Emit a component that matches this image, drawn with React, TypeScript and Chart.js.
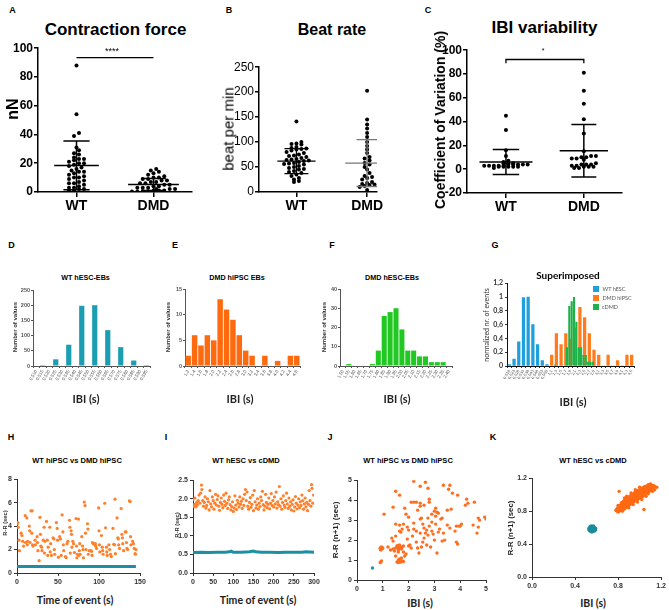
import React, { useEffect, useRef } from "react";
import { Chart, registerables } from "chart.js";
Chart.register(...registerables);
Chart.defaults.color = "#000";

const ARIAL = "'Liberation Sans', Arial, Helvetica, sans-serif";
const LATO = "Lato, 'Liberation Sans', sans-serif";

// ---------------- DATA ----------------
const GROUPS = ["WT", "DMD"];

// A: Contraction force (nN)
const A_WT = [88, 54, 41, 39, 31, 29, 27, 26, 24, 23, 23, 22, 21, 20, 20, 19, 18, 17, 16, 15, 14, 14, 13, 12, 11, 10, 10, 9, 8, 7, 6, 6, 5, 4, 3, 3, 2, 2, 1, 1];
const A_DMD = [16, 15, 14, 13, 12, 11, 10, 10, 9, 9, 8, 8, 7, 7, 6, 6, 5, 5, 4, 4, 3, 3, 3, 2, 2, 2, 1, 1, 0.8, 0.5, 0.5, 0.3, 0.3];
const A_MEAN = [18.5, 5.2];
const A_SD = [17, 4.2];

// B: Beat rate (beat per min)
const B_WT = [141, 100, 97, 96, 95, 90, 88, 87, 86, 85, 83, 80, 78, 75, 73, 72, 70, 68, 66, 65, 64, 63, 62, 60, 58, 57, 56, 55, 52, 50, 48, 46, 45, 42, 40, 38, 35, 32, 28, 25, 22, 20];
const B_DMD = [203, 145, 135, 127, 118, 110, 100, 92, 85, 78, 70, 67, 63, 58, 55, 50, 45, 38, 32, 30, 28, 25, 20, 18, 16, 15, 14, 12, 10, 4];
const B_MEAN = [62, 58];
const B_SD = [25, 47];

// C: IBI variability (Coefficient of Variation %)
const C_WT = [45, 33, 16, 11, 7, 6, 5, 5, 5, 4, 4, 4, 4, 4, 3, 3, 3, 3, 3, 2, 2, 2, 2, 2, 1];
const C_DMD = [81, 66, 55, 42, 30, 15, 11, 11, 10, 10, 9, 9, 8, 5, 4, 4, 4, 3, 3, 2, 2, 2, 1, 1];
const C_MEAN = [6, 15.5];
const C_SD = [10.5, 22];

// D: WT hESC-EBs histogram
const D_LABELS = ["0.510", "0.515", "0.520", "0.525", "0.530", "0.535", "0.540", "0.545", "0.550", "0.555", "0.560", "0.565", "0.570", "0.575", "0.580", "0.585", "0.590", "0.595"];
const D_COUNTS = [0, 3, 0, 22, 0, 70, 0, 198, 0, 200, 0, 118, 0, 62, 0, 18, 0, 3];

// E: DMD hiPSC EBs histogram
const E_LABELS = ["1.2", "1.4", "1.6", "1.8", "2.0", "2.2", "2.4", "2.6", "2.8", "3.0", "3.2", "3.4", "3.6", "3.8", "4.0", "4.2", "4.4", "4.6"];
const E_COUNTS = [2, 6, 4, 6, 5, 13, 11, 9, 6, 3, 2, 0, 2, 0, 1, 0, 2, 2];

// F: DMD hESC-EBs histogram
const F_LABELS = ["1.50", "1.55", "1.60", "1.65", "1.70", "1.75", "1.80", "1.85", "1.90", "1.95", "2.00", "2.05", "2.10", "2.15", "2.20", "2.25", "2.30", "2.35", "2.40"];
const F_COUNTS = [0, 1, 0, 0, 0, 1, 8, 26, 28, 30, 19, 8, 8, 5, 5, 2, 2, 2, 0];

// G: Superimposed (normalized nr. of events)
const G_LABELS = ["0,518", "0,523", "0,528", "0,533", "0,538", "0,543", "0,548", "0,553", "0,558", "1,1", "1,3", "1,5", "1,7", "1,9", "2,1", "2,3", "2,5", "2,7", "2,9", "3,1", "3,3", "3,5", "3,7", "3,9", "4,1", "4,3", "4,5"];
const G_WT = [0.02, 0.1, 0.35, 0.99, 1.0, 0.6, 0.31, 0.08, 0.02, null, null, null, null, null, null, null, null, null, null, null, null, null, null, null, null, null, null];
const G_DMD = [null, null, null, null, null, null, null, null, null, 0.16, 0.47, 0.31, 0.47, 0.39, 0.55, 0.85, 0.7, 0.47, 0.23, 0.16, 0, 0.16, 0, 0.08, 0, 0.16, 0.16];
const G_CDMD_SUBBINS = 54;
const G_CDMD: [number, number][] = [[20, 0.02], [25, 0.27], [26, 0.87], [27, 0.94], [28, 1.0], [29, 0.64], [30, 0.27], [31, 0.27], [32, 0.16], [33, 0.16], [34, 0.06], [35, 0.06], [36, 0.06]];
const G_SERIES = ["WT hESC", "DMD hiPSC", "cDMD"];

// H: WT hiPSC vs DMD hiPSC, R-R (sec) vs time of event (s)
const H_DMD: [number, number][] = [
  [0.5, 4.2], [1, 4.3], [1.5, 3.9], [2.5, 2.8], [3, 1.9], [5, 3.4], [6, 3.2], [7, 2.7], [8, 2.3], [10, 4.9], [10.5, 2.6],
  [12, 4.7], [12.5, 2.4], [13, 2.7], [15, 4.0], [15.5, 3.6], [16, 2.6], [17, 5.3], [18.5, 5.3], [18, 3.4], [19, 2.4], [19.5, 2.3],
  [22, 2.8], [22.5, 2.4], [24.5, 3.1], [25, 2.6], [25.5, 1.9], [27, 1.05], [28, 4.75], [28.5, 3.3], [29, 2.3], [30, 2.2], [30.5, 1.9],
  [32, 2.8], [33, 3.9], [33.5, 1.7], [34, 2.7], [36, 4.4], [37, 2.8], [37.5, 1.5], [38, 2.2], [40, 3.9], [40.5, 1.8], [41, 2.5], [42, 1.5],
  [44, 3.0], [45, 2.9], [45.5, 2.0], [46, 1.6], [48, 4.3], [49, 3.8], [49.5, 2.8], [50.5, 1.35], [52, 3.1], [53, 2.9], [54, 1.5],
  [55, 4.95], [56, 3.5], [56.5, 2.4], [57, 1.9], [59, 1.4], [60, 1.3], [61, 2.5], [62, 2.7], [64, 4.5], [64.5, 3.9], [65, 1.7],
  [66, 3.6], [66.5, 3.3], [67, 2.2], [68, 2.7], [69, 2.5], [70, 1.75], [72, 4.65], [72.5, 2.3], [73, 1.3], [73.5, 1.6],
  [75, 4.6], [75.5, 1.5], [76, 1.9], [76.5, 2.5], [77, 1.6], [79, 3.1], [80, 2.3], [80.5, 2.0], [81, 1.3], [82, 6.05], [83, 5.75], [83.5, 3.4], [84, 2.0],
  [86, 4.2], [86.5, 3.75], [87, 1.6], [88, 1.9], [90, 1.9], [91, 1.85], [91.5, 1.5], [92, 2.6], [93, 2.5], [95, 2.4], [95.5, 2.5], [96, 2.3], [97, 2.1],
  [99.5, 5.55], [100, 3.6], [100.5, 2.4], [101, 1.8], [103, 3.2], [104, 2.2], [104.5, 1.9], [105, 1.6], [107, 5.95], [108, 3.85], [109, 2.2], [109.5, 1.8], [110, 1.5],
  [112, 2.4], [113, 2.0], [114, 1.6], [115, 1.4], [117, 3.8], [118, 2.45], [119, 2.4], [119.5, 6.3], [120, 1.65], [122, 4.7], [123, 3.0], [123.5, 2.9], [124, 2.4], [125, 2.1],
  [127, 5.5], [128, 3.3], [128.5, 3.0], [129, 2.5], [130, 1.9], [132, 3.5], [133, 3.5], [133.5, 2.6], [134, 2.1], [135, 2.0],
  [137, 6.15], [138, 6.1], [138.5, 3.1], [139, 2.4], [141, 2.7], [142, 2.5], [143, 2.1], [144, 1.65], [144.5, 1.6], [145, 2.0]
];
const H_WT: [number, number][] = [[0, 0.55], [10, 0.56], [20, 0.55], [30, 0.56], [40, 0.55], [50, 0.56], [60, 0.55], [70, 0.56], [80, 0.56], [90, 0.55], [100, 0.56], [110, 0.55], [120, 0.56], [130, 0.55], [145, 0.56]];

// I: WT hESC vs cDMD, R-R (sec) vs time of event (s)
const I_CDMD: [number, number][] = [
  [0, 1.98], [2, 1.8], [4, 1.85], [5, 2.02], [7, 1.78], [9, 1.9], [11, 1.83], [13, 1.95], [15, 2.1], [17, 1.88], [19, 2.15], [21, 2.37], [22, 2.25], [24, 1.95],
  [26, 1.8], [28, 1.9], [30, 2.05], [32, 1.75], [34, 1.82], [36, 2.0], [38, 1.92], [40, 1.7], [42, 2.22], [44, 1.86], [46, 1.78], [48, 2.05], [50, 1.95],
  [52, 1.72], [54, 1.88], [56, 2.12], [58, 1.83], [60, 1.98], [62, 2.08], [64, 1.8], [66, 1.69], [68, 1.9], [70, 2.02], [72, 1.85], [74, 1.76], [76, 2.1],
  [78, 1.93], [80, 1.82], [82, 2.15], [84, 1.88], [86, 1.74], [88, 1.97], [90, 2.05], [92, 1.84], [94, 1.7], [96, 1.79], [98, 1.92], [100, 1.66], [102, 1.75],
  [104, 2.08], [106, 1.83], [108, 1.71], [110, 1.96], [112, 1.88], [114, 1.78], [116, 2.05], [118, 1.85], [120, 1.93], [122, 1.74], [124, 2.0], [126, 1.82],
  [128, 2.12], [130, 2.25], [132, 1.95], [134, 2.18], [136, 1.8], [138, 1.72], [140, 1.9], [142, 2.03], [144, 1.77], [146, 1.85], [148, 2.1], [150, 1.68],
  [152, 2.22], [154, 1.92], [156, 1.75], [158, 1.83], [160, 2.0], [162, 1.72], [164, 1.88], [166, 1.79], [168, 2.05], [170, 1.95], [172, 2.2], [174, 1.84],
  [176, 1.7], [178, 1.8], [180, 2.12], [182, 1.9], [184, 1.76], [186, 1.85], [188, 2.02], [190, 1.73], [192, 1.88], [194, 2.14], [196, 1.82], [198, 1.95],
  [200, 1.78], [202, 2.05], [204, 1.86], [206, 2.18], [208, 1.75], [210, 1.92], [212, 1.84], [214, 2.33], [216, 1.8], [218, 2.0], [220, 1.72], [222, 1.9],
  [224, 2.08], [226, 1.83], [228, 1.77], [230, 1.95], [232, 2.15], [234, 1.86], [236, 1.74], [238, 2.02], [240, 1.8], [242, 1.92], [244, 1.7], [246, 1.85],
  [248, 1.97], [250, 1.67], [252, 1.78], [254, 2.06], [256, 1.88], [258, 1.73], [260, 1.83], [262, 2.0], [264, 1.76], [266, 1.92], [268, 1.82], [270, 2.1],
  [272, 1.95], [274, 1.72], [276, 1.86], [278, 2.02], [280, 1.78], [282, 1.9], [284, 1.68], [286, 1.85], [288, 2.22], [290, 1.95], [292, 1.8], [294, 2.38],
  [295, 2.28], [297, 1.88], [299, 2.1]
];
const I_WT: [number, number][] = [[0, 0.55], [20, 0.56], [40, 0.55], [60, 0.56], [80, 0.56], [90, 0.57], [95, 0.59], [100, 0.56], [120, 0.56], [140, 0.57], [150, 0.59], [155, 0.57], [170, 0.56], [190, 0.56], [210, 0.55], [230, 0.56], [250, 0.56], [270, 0.56], [280, 0.57], [300, 0.56]];

// J: WT hiPSC vs DMD hiPSC, R-R (n+1) vs IBI
const J_DMD: [number, number][] = [
  [2.2, 4.95], [2.65, 4.9], [2.45, 4.7], [2.75, 4.6], [1.5, 4.45], [1.65, 4.25], [3.35, 4.75], [3.6, 4.75], [3.55, 4.55], [3.7, 4.35], [3.9, 4.25],
  [4.25, 4.05], [4.3, 3.85], [4.2, 3.75], [4.55, 3.9], [2.8, 4.05], [2.8, 3.9], [2.2, 3.9], [2.3, 3.9], [2.1, 3.9], [1.4, 3.65], [1.85, 3.6],
  [2.45, 3.85], [2.45, 3.7], [2.6, 3.75], [2.35, 3.5], [3.05, 3.6], [3.0, 3.45], [3.15, 3.35], [3.05, 3.2], [3.25, 3.05], [3.5, 3.5], [3.65, 3.55],
  [1.05, 3.3], [1.9, 3.3], [2.0, 3.15], [2.45, 3.05], [2.5, 3.1], [2.75, 3.1], [3.3, 3.1], [2.55, 2.8], [2.9, 2.9], [3.05, 2.8], [1.5, 2.8],
  [1.65, 2.75], [1.8, 2.8], [1.75, 2.55], [1.7, 2.4], [1.95, 2.65], [2.0, 2.5], [2.2, 2.85], [2.2, 2.55], [2.45, 2.35], [2.65, 2.35], [2.7, 2.5],
  [2.75, 2.25], [2.6, 2.6], [2.8, 2.7], [2.9, 2.45], [2.95, 2.3], [3.15, 2.4], [3.0, 2.0], [3.35, 2.35], [3.3, 1.95], [3.5, 2.75], [3.6, 2.6],
  [3.85, 2.7], [3.95, 2.7], [4.05, 2.8], [3.8, 2.45], [3.85, 1.9], [3.9, 1.8], [4.5, 2.75], [4.65, 2.35], [4.7, 2.65], [4.75, 3.0], [4.95, 3.15],
  [5.0, 3.05], [4.7, 3.1], [1.35, 2.1], [1.5, 2.2], [1.4, 1.95], [1.95, 2.05], [2.05, 1.75], [2.3, 1.9], [2.35, 1.6], [2.5, 1.65], [2.7, 1.75],
  [2.85, 1.65], [2.6, 2.1], [3.1, 1.35], [2.1, 1.6], [1.2, 1.65], [0.9, 1.6], [0.92, 1.5], [0.95, 1.65], [0.9, 1.55], [1.0, 1.6], [0.92, 0.9],
  [0.95, 0.95], [0.9, 0.88], [1.3, 1.5], [1.4, 1.55], [1.5, 1.6], [1.55, 1.7], [1.6, 1.5], [1.6, 1.65], [1.65, 1.75], [1.7, 1.6], [1.75, 1.65],
  [1.8, 1.7], [1.6, 1.4], [1.5, 1.2], [1.6, 1.0], [1.55, 0.9], [1.65, 0.92], [1.7, 0.9], [1.75, 0.95], [1.8, 0.93], [1.6, 0.88], [1.9, 1.3],
  [2.0, 1.7], [1.85, 1.2], [2.4, 1.35], [1.45, 1.45], [1.62, 1.58], [1.68, 1.62], [1.58, 1.72], [1.72, 1.55], [0.93, 1.62], [0.97, 1.55],
  [1.65, 1.05], [1.72, 1.1], [1.8, 1.4], [2.15, 2.2], [2.55, 1.9], [3.2, 2.55], [3.4, 2.0], [4.0, 2.7], [1.65, 2.45], [2.3, 2.45], [2.9, 3.3], [3.1, 3.4]
];
const J_WT: [number, number][] = [[0.6, 0.6]];

// K: WT hESC vs cDMD, R-R (n+1) vs IBI  (rows: IBI, list of next R-R)
const K_CDMD: [number, number[]][] = [
  [0.78, [0.81]], [0.79, [0.8, 0.83]], [0.8, [0.81, 0.85, 0.79, 0.87]], [0.81, [0.82, 0.86, 0.8, 0.84, 1.04]], [0.82, [0.83, 0.87, 0.81, 0.85]],
  [0.83, [0.84, 0.88, 0.82, 0.9, 0.86]], [0.84, [0.85, 0.89, 0.83, 0.87, 0.91, 0.8]], [0.85, [0.86, 0.9, 0.84, 0.88, 0.92, 0.82]],
  [0.86, [0.87, 0.91, 0.85, 0.89, 0.93, 0.83, 0.96]], [0.87, [0.88, 0.92, 0.86, 0.9, 0.94, 0.84]], [0.88, [0.89, 0.93, 0.87, 0.91, 0.95, 0.85, 0.98]],
  [0.89, [0.9, 0.94, 0.88, 0.92, 0.96, 0.86]], [0.9, [0.91, 0.95, 0.89, 0.93, 0.97, 0.87, 0.84]], [0.91, [0.92, 0.96, 0.9, 0.94, 0.98, 0.88]],
  [0.92, [0.93, 0.97, 0.91, 0.95, 0.99, 0.89, 1.02]], [0.93, [0.94, 0.98, 0.92, 0.96, 1.0, 0.9]], [0.94, [0.95, 0.99, 0.93, 0.97, 1.01, 0.91, 0.88]],
  [0.95, [0.96, 1.0, 0.94, 0.98, 1.02, 0.92]], [0.96, [0.96, 1.0, 0.94, 0.98, 1.03, 0.93, 1.06]], [0.97, [0.97, 1.01, 0.95, 0.99, 1.04, 0.93]],
  [0.98, [0.98, 1.02, 0.96, 1.0, 1.05, 0.94, 0.91]], [0.99, [0.99, 1.03, 0.97, 1.01, 1.05, 0.95]], [1.0, [1.0, 1.04, 0.98, 1.02, 1.06, 0.96, 1.09]],
  [1.01, [1.0, 1.04, 0.98, 1.02, 1.07, 0.96]], [1.02, [1.01, 1.05, 0.99, 1.03, 1.08, 0.97, 0.94]], [1.03, [1.02, 1.06, 1.0, 1.04, 1.08, 0.98]],
  [1.04, [1.03, 1.07, 1.01, 1.05, 1.09, 0.99, 0.82]], [1.05, [1.03, 1.07, 1.01, 1.05, 1.1, 1.0]], [1.06, [1.04, 1.08, 1.02, 1.06, 1.1, 0.98]],
  [1.07, [1.05, 1.09, 1.03, 1.07, 1.11]], [1.08, [1.06, 1.1, 1.04, 1.08, 1.12, 1.01]], [1.09, [1.06, 1.1, 1.04, 1.08]], [1.1, [1.07, 1.11, 1.05, 1.09, 1.13]],
  [1.11, [1.08, 1.12, 1.06]], [1.12, [1.08, 1.1, 1.04]], [1.13, [1.09, 1.11]], [1.14, [1.1, 1.06]], [1.16, [1.09]]
];
const K_WT: [number, number[]][] = [
  [0.53, [0.57, 0.59]], [0.54, [0.56, 0.58, 0.6, 0.61]], [0.55, [0.55, 0.57, 0.59, 0.61, 0.62]], [0.56, [0.55, 0.57, 0.59, 0.61]],
  [0.57, [0.56, 0.58, 0.6, 0.62]], [0.58, [0.56, 0.58, 0.6]], [0.59, [0.57, 0.59]]
];

// ---------------- HELPERS ----------------
function swarm(values: number[], center: number, bin: number, dx: number, maxRow: number) {
  const sorted = [...values].sort((a, b) => a - b);
  const rowMap = new Map<number, number[]>();
  sorted.forEach((v) => {
    const k = Math.floor(v / bin);
    if (!rowMap.has(k)) rowMap.set(k, []);
    rowMap.get(k)!.push(v);
  });
  const pts: { x: number; y: number }[] = [];
  rowMap.forEach((arr) => {
    for (let s = 0, r = 0; s < arr.length; s += maxRow, r++) {
      const chunk = arr.slice(s, s + maxRow);
      const shift = r % 2 ? dx / 2 : 0;
      chunk.forEach((v, j) => pts.push({ x: center + (j - (chunk.length - 1) / 2) * dx + shift, y: v }));
    }
  });
  return pts;
}

function seg(pts: { x: number; y: number }[], color: string, w: number) {
  return { type: "scatter", data: pts, showLine: true, borderColor: color, borderWidth: w, pointRadius: 0, fill: false };
}

function errorBars(means: number[], sds: number[], meanHW: number[], whiskHW: number[], colors: string[], w: number) {
  const ds: any[] = [];
  means.forEach((m, i) => {
    const c = i + 1;
    const col = colors[i];
    const hi = m + sds[i];
    const lo = m - sds[i];
    ds.push(seg([{ x: c - meanHW[i], y: m }, { x: c + meanHW[i], y: m }], col, w));
    ds.push(seg([{ x: c, y: lo }, { x: c, y: hi }], col, w));
    ds.push(seg([{ x: c - whiskHW[i], y: hi }, { x: c + whiskHW[i], y: hi }], col, w));
    ds.push(seg([{ x: c - whiskHW[i], y: lo }, { x: c + whiskHW[i], y: lo }], col, w));
  });
  return ds;
}

function pairs(arr: [number, number][]) {
  return arr.map(([x, y]) => ({ x, y }));
}
function rows(arr: [number, number[]][]) {
  return arr.flatMap(([x, ys]) => ys.map((y) => ({ x, y })));
}

function dotConfig(p: any) {
  const axisCol = "#000";
  return {
    type: "scatter",
    data: {
      datasets: [
        ...(p.extra || []),
        ...errorBars(p.mean, p.sd, p.meanHW, p.whiskHW, p.errColors, p.errW),
        { data: swarm(p.wt, 1, p.bin, p.dx, p.maxRow), pointRadius: 2, pointBackgroundColor: "#000", pointBorderWidth: 0 },
        { data: swarm(p.dmd, 2, p.bin, p.dxD ?? p.dx, p.maxRowD ?? p.maxRow), pointRadius: 2, pointBackgroundColor: "#000", pointBorderWidth: 0 },
      ],
    },
    options: {
      scales: {
        x: {
          type: "linear",
          min: p.xMin,
          max: p.xMax,
          afterBuildTicks: (s: any) => { s.ticks = [{ value: 1 }, { value: 2 }]; },
          ticks: { callback: (v: any) => GROUPS[Math.round(v) - 1] ?? "", font: { family: ARIAL, size: 14, weight: "bold" }, color: "#000", padding: 1 },
          grid: { drawOnChartArea: false, tickLength: 5, color: axisCol, lineWidth: 1.5 },
          border: { color: axisCol, width: 1.5 },
        },
        y: {
          type: "linear",
          min: p.yMin,
          max: p.yMax,
          ticks: { stepSize: p.yStep, font: { family: ARIAL, size: 12, weight: p.tickWeight }, color: "#000", padding: 1 },
          grid: { drawOnChartArea: false, tickLength: 4, color: axisCol, lineWidth: 1.5 },
          border: { color: axisCol, width: 1.5 },
        },
      },
    },
  };
}

function histConfig(labels: string[], counts: number[], color: string, yMax: number, yStep: number, barPct: number) {
  return {
    type: "bar",
    data: { labels, datasets: [{ data: counts, backgroundColor: color, barPercentage: barPct, categoryPercentage: 1 }] },
    options: {
      scales: {
        x: {
          ticks: { autoSkip: false, minRotation: 60, maxRotation: 60, font: { family: ARIAL, size: 4.5 }, color: "#555", padding: 1 },
          grid: { drawOnChartArea: false, tickLength: 2, color: "#555" },
          border: { color: "#555", width: 1 },
        },
        y: {
          min: 0,
          max: yMax,
          ticks: { stepSize: yStep, font: { family: ARIAL, size: 5.5, weight: "bold" }, color: "#555", padding: 1 },
          grid: { drawOnChartArea: false, tickLength: 2, color: "#555" },
          border: { color: "#555", width: 1 },
        },
      },
    },
  };
}

function scatterScales(xMin: number, xMax: number, xStep: number, yMin: number, yMax: number, yStep: number, fx?: (v: number) => string, fy?: (v: number) => string) {
  const base = (min: number, max: number, step: number, f?: (v: number) => string) => ({
    type: "linear",
    min,
    max,
    ticks: { stepSize: step, font: { family: ARIAL, size: 7, weight: "bold" }, color: "#333", padding: 2, callback: f ? (v: any) => f(v) : undefined },
    grid: { drawOnChartArea: false, tickLength: 3, color: "#333" },
    border: { color: "#333", width: 1 },
  });
  return { x: base(xMin, xMax, xStep, fx), y: base(yMin, yMax, yStep, fy) };
}

const fix1 = (v: number) => v.toFixed(1);

// ---------------- CHART BUILDERS ----------------
const buildA = () =>
  dotConfig({
    wt: A_WT, dmd: A_DMD, mean: A_MEAN, sd: A_SD, meanHW: [0.29, 0.33], whiskHW: [0.17, 0.16], errColors: ["#000", "#000"], errW: 1.5,
    xMin: 0.5, xMax: 2.5, yMin: 0, yMax: 100, yStep: 20, bin: 3, dx: 0.065, maxRow: 8, dxD: 0.07, maxRowD: 9, tickWeight: "bold",
    extra: [seg([{ x: 1, y: 93.5 }, { x: 2, y: 93.5 }], "#000", 1.3)],
  });

const buildB = () =>
  dotConfig({
    wt: B_WT, dmd: B_DMD, mean: B_MEAN, sd: B_SD, meanHW: [0.27, 0.31], whiskHW: [0.17, 0.15], errColors: ["#000", "#777"], errW: 1.3,
    xMin: 0.47, xMax: 2.14, yMin: 0, yMax: 250, yStep: 50, bin: 8, dx: 0.07, maxRow: 7, tickWeight: "normal",
  });

const buildC = () =>
  dotConfig({
    wt: C_WT, dmd: C_DMD, mean: C_MEAN, sd: C_SD, meanHW: [0.34, 0.31], whiskHW: [0.17, 0.16], errColors: ["#000", "#000"], errW: 1.5,
    xMin: 0.5, xMax: 2.49, yMin: -20, yMax: 100, yStep: 20, bin: 3, dx: 0.062, maxRow: 10, tickWeight: "bold",
    extra: [seg([{ x: 1, y: 89 }, { x: 1, y: 92.2 }, { x: 2, y: 92.2 }, { x: 2, y: 89 }], "#000", 1.3)],
  });

const buildD = () => histConfig(D_LABELS, D_COUNTS, "#1b9db2", 250, 50, 0.8);
const buildE = () => histConfig(E_LABELS, E_COUNTS, "#ff6a0e", 15, 5, 0.86);
const buildF = () => histConfig(F_LABELS, F_COUNTS, "#22c822", 40, 10, 0.86);

const buildG = () => {
  const sub: (number | null)[] = Array.from({ length: G_CDMD_SUBBINS }, () => null);
  G_CDMD.forEach(([k, v]) => { sub[k] = v; });
  const subLabels = Array.from({ length: G_CDMD_SUBBINS }, (_, i) => String(i));
  return {
    type: "bar",
    data: {
      labels: G_LABELS,
      datasets: [
        { label: G_SERIES[2], data: sub, xAxisID: "x2", backgroundColor: "#1fb24a", barPercentage: 0.92, categoryPercentage: 1, grouped: false },
        { label: G_SERIES[0], data: G_WT, xAxisID: "x", backgroundColor: "#1f9fdb", barThickness: 2.6, grouped: false },
        { label: G_SERIES[1], data: G_DMD, xAxisID: "x", backgroundColor: "#ff7b1c", barThickness: 2.6, grouped: false },
      ],
    },
    options: {
      scales: {
        x: {
          ticks: { autoSkip: false, minRotation: 60, maxRotation: 60, font: { family: ARIAL, size: 4 }, color: "#444", padding: 1 },
          grid: { drawOnChartArea: false, tickLength: 2, color: "#333" },
          border: { color: "#111", width: 1 },
        },
        x2: { type: "category", labels: subLabels, display: false, offset: true },
        y: {
          min: 0,
          max: 1.2,
          ticks: { stepSize: 0.2, font: { family: LATO, size: 7, weight: "bold" }, color: "#333", padding: 2, callback: (v: any) => String(Math.round(v * 10) / 10).replace(".", ",") },
          grid: { drawOnChartArea: false, tickLength: 2, color: "#333" },
          border: { color: "#111", width: 1 },
        },
      },
    },
  };
};

const SC_ORANGE = "#ff7f2a";
const SC_TEAL = "#1d8fa2";

const buildH = () => ({
  type: "scatter",
  data: {
    datasets: [
      { data: pairs(H_DMD), pointRadius: 1.6, pointBackgroundColor: SC_ORANGE, pointBorderWidth: 0 },
      { data: pairs(H_WT), showLine: true, borderColor: SC_TEAL, borderWidth: 3, pointRadius: 0 },
    ],
  },
  options: { scales: scatterScales(0, 150, 50, 0, 8, 2) },
});

const buildI = () => ({
  type: "scatter",
  data: {
    datasets: [
      { data: pairs(I_CDMD), pointRadius: 1.6, pointBackgroundColor: SC_ORANGE, pointBorderWidth: 0 },
      { data: pairs(I_WT), showLine: true, borderColor: SC_TEAL, borderWidth: 3, pointRadius: 0 },
    ],
  },
  options: { scales: scatterScales(0, 300, 50, 0, 2.5, 0.5, undefined, fix1) },
});

const buildJ = () => ({
  type: "scatter",
  data: {
    datasets: [
      { data: pairs(J_WT), pointRadius: 1.8, pointBackgroundColor: "#2596a6", pointBorderWidth: 0 },
      { data: pairs(J_DMD), pointRadius: 1.7, pointBackgroundColor: "#ff6d1f", pointBorderWidth: 0 },
    ],
  },
  options: { scales: scatterScales(0, 5, 1, 0, 5, 1) },
});

const buildK = () => ({
  type: "scatter",
  data: {
    datasets: [
      { data: rows(K_WT), pointRadius: 1.8, pointBackgroundColor: "#1b8c9b", pointBorderWidth: 0 },
      { data: rows(K_CDMD), pointRadius: 1.7, pointBackgroundColor: "#ff6a13", pointBorderWidth: 0 },
    ],
  },
  options: { scales: scatterScales(0, 1.2, 0.4, 0, 1.2, 0.4, fix1, fix1) },
});

// ---------------- LAYOUT ----------------
type Geo = { x0: number; x1: number; yTop: number; yBot: number; yW: number; xH: number; padT: number; padR: number };
const GEO: Record<string, Geo> = {
  A: { x0: 38, x1: 192, yTop: 48, yBot: 192, yW: 32, xH: 22, padT: 8, padR: 6 },
  B: { x0: 259, x1: 377, yTop: 67, yBot: 192, yW: 30, xH: 22, padT: 8, padR: 8 },
  C: { x0: 467, x1: 622, yTop: 50, yBot: 193, yW: 30, xH: 22, padT: 8, padR: 8 },
  D: { x0: 33, x1: 150, yTop: 290, yBot: 366, yW: 16, xH: 28, padT: 5, padR: 4 },
  E: { x0: 185, x1: 300, yTop: 289, yBot: 366, yW: 14, xH: 28, padT: 5, padR: 4 },
  F: { x0: 340, x1: 452, yTop: 289, yBot: 366, yW: 14, xH: 28, padT: 5, padR: 4 },
  G: { x0: 507, x1: 634, yTop: 282, yBot: 366, yW: 18, xH: 28, padT: 5, padR: 4 },
  H: { x0: 17, x1: 140, yTop: 479, yBot: 573, yW: 14, xH: 14, padT: 6, padR: 8 },
  I: { x0: 193, x1: 314, yTop: 480, yBot: 573, yW: 16, xH: 14, padT: 6, padR: 8 },
  J: { x0: 357, x1: 486, yTop: 480, yBot: 580, yW: 14, xH: 14, padT: 6, padR: 7 },
  K: { x0: 532, x1: 662, yTop: 478, yBot: 577, yW: 17, xH: 14, padT: 6, padR: 6 },
};

function Panel({ geo, build }: { geo: Geo; build: () => any }) {
  const ref = useRef<HTMLCanvasElement | null>(null);
  const left = geo.x0 - geo.yW;
  const top = geo.yTop - geo.padT;
  const width = geo.x1 + geo.padR - left;
  const height = geo.yBot + geo.xH - top;
  useEffect(() => {
    if (!ref.current) return;
    const cfg = build();
    const o = cfg.options || (cfg.options = {});
    o.responsive = false;
    o.animation = false;
    o.events = [];
    o.layout = { padding: { top: geo.padT, right: geo.padR, left: 0, bottom: 0 } };
    o.plugins = { legend: { display: false }, tooltip: { enabled: false }, title: { display: false } };
    o.scales.x.afterFit = (s: any) => { s.height = geo.xH; };
    o.scales.y.afterFit = (s: any) => { s.width = geo.yW; };
    const chart = new Chart(ref.current, cfg);
    return () => chart.destroy();
  }, []);
  return <canvas ref={ref} width={width} height={height} style={{ position: "absolute", left, top, width, height }} />;
}

type TP = { x: number; y: number; t: string; s: number; w?: string; f?: string; c?: string; r?: boolean };
function Txt({ x, y, t, s, w = "normal", f = ARIAL, c = "#000", r = false }: TP) {
  const small = s < 7;
  const fs = small ? s * 2 : s;
  const tr = `translate(-50%,-50%)${r ? " rotate(-90deg)" : ""}${small ? " scale(0.5)" : ""}`;
  return (
    <div style={{ position: "absolute", left: x, top: y, transform: tr, fontSize: fs, fontWeight: w as any, fontFamily: f, color: c, whiteSpace: "nowrap", lineHeight: 1 }}>
      {t}
    </div>
  );
}

const TEXTS: TP[] = [
  // panel letters
  { x: 12.5, y: 10, t: "A", s: 9, w: "bold" }, { x: 229, y: 10, t: "B", s: 9, w: "bold" }, { x: 428, y: 10, t: "C", s: 9, w: "bold" },
  { x: 11.5, y: 245, t: "D", s: 9, w: "bold" }, { x: 175, y: 245, t: "E", s: 9, w: "bold" }, { x: 332, y: 245, t: "F", s: 9, w: "bold" }, { x: 495, y: 245, t: "G", s: 9, w: "bold" },
  { x: 11, y: 437, t: "H", s: 9, w: "bold" }, { x: 166, y: 437, t: "I", s: 9, w: "bold" }, { x: 330, y: 437, t: "J", s: 9, w: "bold" }, { x: 493, y: 437, t: "K", s: 9, w: "bold" },
  // titles
  { x: 115.5, y: 29, t: "Contraction force", s: 17, w: "bold" },
  { x: 332, y: 30, t: "Beat rate", s: 16, w: "bold" },
  { x: 544.5, y: 27, t: "IBI variability", s: 17, w: "bold" },
  { x: 85.5, y: 278, t: "WT hESC-EBs", s: 7.2, w: "bold" },
  { x: 237, y: 278, t: "DMD hiPSC EBs", s: 7.2, w: "bold" },
  { x: 392, y: 278, t: "DMD hESC-EBs", s: 7.2, w: "bold" },
  { x: 568, y: 275, t: "Superimposed", s: 10, w: "bold", f: LATO },
  { x: 77, y: 461, t: "WT hiPSC vs DMD hiPSC", s: 7.5, w: "bold" },
  { x: 246, y: 461, t: "WT hESC vs cDMD", s: 7.5, w: "bold" },
  { x: 408, y: 461, t: "WT hiPSC vs DMD hiPSC", s: 7.5, w: "bold" },
  { x: 593, y: 461, t: "WT hESC vs cDMD", s: 7.5, w: "bold" },
  // y titles
  { x: 13, y: 109, t: "nN", s: 16, w: "bold", r: true },
  { x: 227.5, y: 129, t: "beat per min", s: 15, r: true },
  { x: 440, y: 120, t: "Coefficient of Variation (%)", s: 14, w: "bold", r: true },
  { x: 15, y: 327, t: "Number of values", s: 6, w: "bold", r: true, c: "#333" },
  { x: 168, y: 327, t: "Number of values", s: 6, w: "bold", r: true, c: "#333" },
  { x: 324, y: 327, t: "Number of values", s: 6, w: "bold", r: true, c: "#333" },
  { x: 486, y: 325, t: "normalized nr. of events", s: 7, f: LATO, r: true, c: "#333" },
  { x: 5, y: 523, t: "R-R (sec)", s: 5.8, w: "bold", r: true, c: "#333" },
  { x: 177, y: 525, t: "R-R (sec)", s: 5.8, w: "bold", r: true, c: "#333" },
  { x: 336, y: 530, t: "R-R (n+1) (sec)", s: 8, w: "bold", r: true, c: "#222" },
  { x: 511, y: 528, t: "R-R (n+1) (sec)", s: 7.7, w: "bold", r: true, c: "#222" },
  // x titles
  { x: 86, y: 398, t: "IBI (s)", s: 11, w: "bold", f: LATO, c: "#222" },
  { x: 240, y: 398, t: "IBI (s)", s: 11, w: "bold", f: LATO, c: "#222" },
  { x: 397, y: 398, t: "IBI (s)", s: 11, w: "bold", f: LATO, c: "#222" },
  { x: 573, y: 401, t: "IBI (s)", s: 11, w: "bold", f: LATO, c: "#222" },
  { x: 75, y: 600, t: "Time of event (s)", s: 10.5, w: "bold", f: LATO, c: "#222" },
  { x: 258, y: 600, t: "Time of event (s)", s: 10.5, w: "bold", f: LATO, c: "#222" },
  { x: 420, y: 603, t: "IBI (s)", s: 10.5, w: "bold", f: LATO, c: "#222" },
  { x: 593, y: 603, t: "IBI (s)", s: 10.5, w: "bold", f: LATO, c: "#222" },
  // significance
  { x: 112, y: 51, t: "****", s: 9 },
  { x: 543, y: 50, t: "*", s: 7 },
];

const LEGEND_COLORS = ["#1f9fdb", "#ff7b1c", "#1fb24a"];

export default function App() {
  return (
    <div style={{ position: "absolute", left: 0, top: 0, width: 669, height: 610, background: "#fff", overflow: "hidden" }}>
      <Panel geo={GEO.A} build={buildA} />
      <Panel geo={GEO.B} build={buildB} />
      <Panel geo={GEO.C} build={buildC} />
      <Panel geo={GEO.D} build={buildD} />
      <Panel geo={GEO.E} build={buildE} />
      <Panel geo={GEO.F} build={buildF} />
      <Panel geo={GEO.G} build={buildG} />
      <Panel geo={GEO.H} build={buildH} />
      <Panel geo={GEO.I} build={buildI} />
      <Panel geo={GEO.J} build={buildJ} />
      <Panel geo={GEO.K} build={buildK} />
      {TEXTS.map((p, i) => <Txt key={i} {...p} />)}
      {G_SERIES.map((name, i) => (
        <React.Fragment key={name}>
          <div style={{ position: "absolute", left: 593, top: 286 + i * 9, width: 6, height: 6, background: LEGEND_COLORS[i] }} />
          <Txt x={604 + name.length * 1.4} y={289 + i * 9} t={name} s={5.5} f={LATO} c="#555" />
        </React.Fragment>
      ))}
    </div>
  );
}
